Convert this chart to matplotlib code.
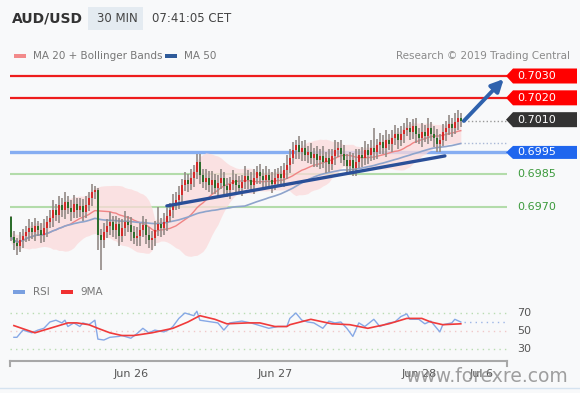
import numpy as np
import pandas as pd
import matplotlib
matplotlib.use("Agg")
import matplotlib.pyplot as plt
from matplotlib.patches import Polygon, Rectangle
from matplotlib.lines import Line2D

# 30 min AUD/USD closes, Jun 25 evening -> Jun 28 morning
closes = [
    0.69563, 0.69535, 0.69521, 0.69549, 0.69567, 0.69586, 0.69604, 0.69586, 0.69613, 0.69595,
    0.69572, 0.69604, 0.69631, 0.69650, 0.69686, 0.69663, 0.69709, 0.69686, 0.69723, 0.69695,
    0.69677, 0.69714, 0.69686, 0.69705, 0.69677, 0.69709, 0.69741, 0.69769, 0.69778, 0.69572,
    0.69549, 0.69586, 0.69613, 0.69631, 0.69595, 0.69622, 0.69567, 0.69604, 0.69631, 0.69618,
    0.69586, 0.69558, 0.69567, 0.69595, 0.69618, 0.69572, 0.69549, 0.69558, 0.69595, 0.69622,
    0.69604, 0.69631, 0.69659, 0.69686, 0.69714, 0.69732, 0.69755, 0.69801, 0.69824, 0.69805,
    0.69833, 0.69860, 0.69906, 0.69847, 0.69815, 0.69833, 0.69801, 0.69824, 0.69787, 0.69810,
    0.69833, 0.69796, 0.69778, 0.69805, 0.69824, 0.69801, 0.69787, 0.69815, 0.69842, 0.69824,
    0.69801, 0.69833, 0.69860, 0.69842, 0.69824, 0.69847, 0.69824, 0.69805, 0.69833, 0.69851,
    0.69833, 0.69869, 0.69892, 0.69924, 0.69961, 0.69984, 0.69952, 0.69970, 0.69938, 0.69952,
    0.69924, 0.69943, 0.69915, 0.69934, 0.69906, 0.69924, 0.69897, 0.69934, 0.69961, 0.69970,
    0.69943, 0.69915, 0.69888, 0.69915, 0.69879, 0.69906, 0.69938, 0.69924, 0.69961, 0.69938,
    0.69970, 0.69952, 0.69984, 0.69998, 0.69970, 0.70007, 0.69988, 0.70016, 0.70034, 0.70007,
    0.70034, 0.70053, 0.70062, 0.70043, 0.70071, 0.70034, 0.70016, 0.70043, 0.70025, 0.70062,
    0.70034, 0.70016, 0.69988, 0.70007, 0.70043, 0.70062, 0.70080, 0.70062, 0.70089, 0.70108,
    0.70094,
]
first_open = 0.69654

# wick lengths in pips above / below the body
wick_up = [
    0.5, 2.8, 2.2, 3.6, 3.2, 2.7, 4.0, 2.9, 3.6, 2.5,
    3.2, 4.3, 2.9, 3.6, 4.5, 2.7, 4.0, 3.2, 4.7, 2.7,
    3.6, 4.3, 2.9, 3.6, 3.2, 4.0, 2.7, 3.6, 1.8, 0.9,
    2.9, 4.0, 3.2, 4.5, 2.7, 3.6, 2.9, 4.0, 5.0, 2.7,
    3.6, 2.9, 4.0, 3.2, 4.3, 2.7, 3.6, 3.2, 4.0, 8.0,
    2.9, 4.3, 3.6, 3.2, 4.5, 3.6, 4.0, 2.9, 3.6, 2.7,
    4.0, 3.2, 3.7, 3.6, 2.9, 4.3, 3.2, 4.0, 2.7, 3.6,
    4.3, 2.9, 3.6, 3.2, 4.5, 2.7, 4.0, 3.2, 4.7, 2.7,
    3.6, 4.3, 2.9, 3.6, 3.2, 4.0, 2.7, 3.6, 4.3, 2.9,
    3.6, 3.2, 4.5, 4.0, 3.6, 2.5, 4.0, 3.2, 3.6, 2.7,
    4.3, 2.9, 3.6, 3.2, 4.5, 2.7, 4.0, 3.2, 4.7, 2.7,
    3.6, 4.3, 2.9, 3.6, 3.2, 6.0, 2.7, 3.6, 4.3, 2.9,
    3.6, 9.0, 2.9, 4.0, 3.2, 4.5, 2.7, 3.6, 4.3, 2.9,
    3.6, 3.2, 4.5, 2.7, 3.2, 3.6, 2.9, 4.0, 3.2, 4.5,
    2.7, 3.6, 4.3, 2.9, 3.6, 3.2, 4.0, 2.7, 4.3, 3.6,
    2.2,
]
wick_dn = [
    1.8, 3.2, 4.0, 2.7, 3.6, 2.9, 4.0, 3.2, 4.3, 2.7,
    3.6, 3.2, 4.0, 2.9, 4.3, 2.7, 3.6, 3.2, 4.0, 2.9,
    4.3, 2.7, 3.6, 3.2, 4.0, 2.9, 2.7, 3.6, 3.2, 7.0,
    13.8, 3.6, 2.9, 4.3, 3.2, 4.0, 4.5, 2.9, 3.6, 3.2,
    4.3, 2.7, 3.6, 4.7, 3.2, 4.0, 3.6, 4.6, 3.6, 2.9,
    4.0, 3.2, 4.3, 2.7, 3.6, 2.9, 4.0, 3.2, 2.7, 3.6,
    2.9, 4.0, 3.2, 4.3, 2.7, 3.6, 3.2, 4.0, 2.9, 4.3,
    2.7, 3.6, 3.2, 4.0, 2.9, 4.3, 2.7, 3.6, 3.2, 4.0,
    2.9, 4.3, 2.7, 3.6, 3.2, 4.0, 2.9, 4.3, 2.7, 3.6,
    3.2, 4.0, 4.0, 3.6, 2.9, 4.0, 3.2, 4.3, 2.7, 3.6,
    2.9, 4.0, 3.2, 4.3, 2.7, 4.8, 3.6, 2.9, 4.0, 3.2,
    4.3, 2.7, 3.6, 3.7, 3.7, 3.6, 2.9, 4.0, 3.2, 4.3,
    2.7, 3.6, 3.2, 4.0, 2.9, 4.3, 2.7, 3.6, 3.2, 4.0,
    2.9, 4.3, 2.7, 3.6, 3.2, 4.0, 2.9, 4.3, 2.7, 3.6,
    3.2, 4.0, 3.6, 3.6, 2.9, 4.0, 3.2, 4.3, 2.7, 3.6,
    2.7,
]

# RSI(14) and its 9 period MA (x = candle index)
rsi_x = [1, 2, 4, 7, 9, 11, 13, 15, 17, 18, 19, 21, 23, 24, 26, 28, 29, 31, 33, 36,
         37, 40, 42, 44, 46, 48, 51, 53, 54, 56, 58, 61, 62, 63, 67, 69, 71, 73, 77, 80,
         82, 86, 89, 92, 93, 95, 97, 99, 101, 104, 106, 108, 110, 112, 114, 116, 118, 121, 123, 126,
         128, 130, 132, 133, 136, 138, 140, 143, 144, 147, 148, 150]
rsi_vals = [43, 43, 51, 48, 51, 53, 60, 62, 59, 62, 55, 59, 55, 59, 57, 62, 41, 40, 43, 44,
            45, 42, 47, 53, 48, 51, 49, 52, 55, 64, 70, 67, 72, 62, 60, 59, 51, 59, 61, 59,
            57, 53, 55, 55, 64, 70, 62, 60, 59, 53, 61, 59, 60, 53, 44, 59, 55, 63, 55, 59,
            60, 66, 69, 63, 63, 58, 61, 49, 57, 59, 63, 60]
rsi_ma_x = [1, 8, 13, 19, 22, 26, 29, 33, 37, 41, 47, 54, 59, 63, 68, 72, 79, 83, 88, 92,
            93, 100, 107, 113, 119, 126, 132, 137, 140, 144, 150]
rsi_ma_vals = [56, 48, 53, 59, 59, 57, 53, 48, 45, 45, 48, 53, 60, 67, 63, 58, 59, 59, 55, 55,
               57, 63, 58, 57, 53, 58, 64, 64, 60, 57, 58]

day_ticks = [40, 88, 136, 157]
day_labels = ["Jun 26", "Jun 27", "Jun 28", "Jul 6"]

resistances = [0.7030, 0.7020]
pivot = 0.6995
supports = [0.6985, 0.6970]
last_price = 0.7010
trend = ([52, 144.7], [0.69705, 0.69934])
target_arrow = ([151, 0.70094], [164.3, 0.70286])

rsi_levels = [70, 50, 30]

# ---------------------------------------------------------------
c = np.array(closes)
o = np.r_[first_open, c[:-1]]
hi = np.maximum(o, c) + np.array(wick_up) * 1e-4
lo = np.minimum(o, c) - np.array(wick_dn) * 1e-4
idx = np.arange(len(c))

s = pd.Series(c)
ma20 = s.rolling(20, min_periods=1).mean()
sd20 = s.rolling(20, min_periods=2).std(ddof=0).bfill()
ma50 = s.rolling(50, min_periods=1).mean()

W, H = 580, 393
fig = plt.figure(figsize=(W / 100, H / 100), dpi=100)
fig.patch.set_facecolor("#f8f9fa")

def fx(px):
    return px / W

def fy(py):
    return 1 - py / H

px_per = 0.0000458  # price per pixel
ylo, yhi = 0.7030 - (278 - 76) * px_per, 0.7030 + (76 - 65) * px_per
xlim = (-0.3, 165.4)

ax = fig.add_axes([fx(10), fy(278), fx(497), 213 / H])
ax.set_facecolor("none")
ax.set_xlim(*xlim)
ax.set_ylim(ylo, yhi)
ax.axis("off")

for r in resistances:
    ax.axhline(r, color="#ee1c1c", lw=1.6, zorder=1)
ax.axhline(pivot, color="#86aef2", lw=2.4, zorder=1)
for sp in supports:
    ax.axhline(sp, color="#b3dcaa", lw=1.5, zorder=1)

ax.fill_between(idx, ma20 - 2 * sd20, ma20 + 2 * sd20, color="#fcdada", alpha=0.75, lw=0, zorder=2)
ax.plot(idx, ma20, color="#f08484", lw=1, zorder=3)
ax.plot(idx, ma50, color="#8ea4cc", lw=1.2, zorder=3)

ax.vlines(idx, lo, hi, color="#938a86", lw=1.2, zorder=4)
up = c >= o
ax.bar(idx[up], (c - o)[up], bottom=o[up], width=0.8, color="#d42a2a", lw=0, zorder=5)
ax.bar(idx[~up], (o - c)[~up], bottom=c[~up], width=0.8, color="#2c6e2c", lw=0, zorder=5)

ax.plot([idx[-1] + 1, xlim[1]], [c[-1]] * 2, ls=":", color="#999999", lw=1, zorder=3)
ax.plot([idx[-1] + 1, xlim[1]], [ma50.iloc[-1]] * 2, ls=":", color="#a9b8d6", lw=1, zorder=3)

ax.plot(trend[0], trend[1], color="#2a4f98", lw=2.4, solid_capstyle="round", zorder=6)
ax.annotate("", xy=target_arrow[1], xytext=target_arrow[0],
            arrowprops=dict(arrowstyle="-|>", color="#2f62ad", lw=2.8, mutation_scale=18,
                            shrinkA=0, shrinkB=0), zorder=7)

# price tags on the right
lab = fig.add_axes([fx(505), fy(278), fx(75), 213 / H])
lab.set_xlim(505, 580)
lab.set_ylim(ylo, yhi)
lab.axis("off")

def tag(val, color, text, half=7.5):
    h = half * px_per
    lab.add_patch(Polygon([(506, val), (513, val + h), (577, val + h), (577, val - h), (513, val - h)],
                          closed=True, color=color, lw=0))
    lab.text(517, val, text, color="white", fontsize=8, va="center", ha="left")

tag(0.7030, "#ff0000", "0.7030")
tag(0.7020, "#ff0000", "0.7020")
tag(last_price, "#333333", "0.7010")
tag(pivot, "#1f66ee", "0.6995", half=6.5)
for sp in supports:
    lab.text(517, sp, f"{sp:.4f}", color="#3c9a3c", fontsize=8, va="center", ha="left")

# RSI panel
rax = fig.add_axes([fx(10), fy(361), fx(497), 78 / H])
rax.set_facecolor("none")
rax.set_xlim(*xlim)
rax.set_ylim(16.7, 103.3)
for sp in ["top", "right", "left"]:
    rax.spines[sp].set_visible(False)
rax.spines["bottom"].set_color("#a8a8a8")
rax.spines["bottom"].set_linewidth(1.5)
rax.set_yticks([])
rax.set_xticks(day_ticks)
rax.set_xticklabels(day_labels, fontsize=8, color="#555555")
rax.tick_params(axis="x", length=0, pad=6)
for xe in xlim:
    rax.plot([xe, xe], [0, -0.07], color="#a8a8a8", lw=1.5, transform=rax.get_xaxis_transform(), clip_on=False)

rax.axhline(70, color="#b9dcb1", lw=1, ls=(0, (1, 3)))
rax.axhline(30, color="#b9dcb1", lw=1, ls=(0, (1, 3)))
rax.axhline(50, color="#f0c8c8", lw=1, ls=(0, (1, 3)))
rax.plot(rsi_x, rsi_vals, color="#86a8e6", lw=1)
rax.plot(rsi_ma_x, rsi_ma_vals, color="#f03a3a", lw=1.2)
rax.plot([rsi_x[-1] + 1, xlim[1]], [rsi_vals[-1]] * 2, ls=(0, (1, 3)), color="#9db6e6", lw=1)
for lv in rsi_levels:
    rax.text(fx(517 - 10) / fx(497), lv, str(lv), fontsize=8, color="#555555", va="center",
             transform=rax.get_yaxis_transform(), clip_on=False)

# header
fig.text(fx(12), fy(18.5), "AUD/USD", fontsize=10, fontweight="bold", color="#333333", va="center")
fig.patches.append(Rectangle((fx(88), fy(30)), fx(55), 23 / H, transform=fig.transFigure,
                             color="#e4ebf1", lw=0))
fig.text(fx(97), fy(18.5), "30 MIN", fontsize=8.5, color="#444444", va="center")
fig.text(fx(152), fy(18.5), "07:41:05 CET", fontsize=8.5, color="#444444", va="center")

# legends
def swatch(x0, y0, w, color):
    fig.patches.append(Rectangle((fx(x0), fy(y0 + 2)), fx(w), 4 / H, transform=fig.transFigure,
                                 color=color, lw=0))

swatch(14, 56, 12, "#f28a8a")
fig.text(fx(33), fy(56), "MA 20 + Bollinger Bands", fontsize=7.5, color="#777777", va="center")
swatch(165, 56, 12, "#2f5b9a")
fig.text(fx(184), fy(56), "MA 50", fontsize=7.5, color="#777777", va="center")
fig.text(fx(570), fy(56), "Research \u00a9 2019 Trading Central", fontsize=7.5, color="#8a8a8a",
         va="center", ha="right")

swatch(13, 292, 12, "#7aa0e0")
fig.text(fx(33), fy(292), "RSI", fontsize=7.5, color="#777777", va="center")
swatch(61, 292, 12, "#f03030")
fig.text(fx(80), fy(292), "9MA", fontsize=7.5, color="#777777", va="center")

fig.text(fx(487), fy(377), "www.forexre.com", fontsize=13.5, color="#888888", alpha=0.8,
         ha="center", va="center")
fig.add_artist(Line2D([0, 1], [fy(388), fy(388)], transform=fig.transFigure, color="#d5e3f0", lw=1))

fig.savefig("out.png", dpi=100, facecolor=fig.get_facecolor())
